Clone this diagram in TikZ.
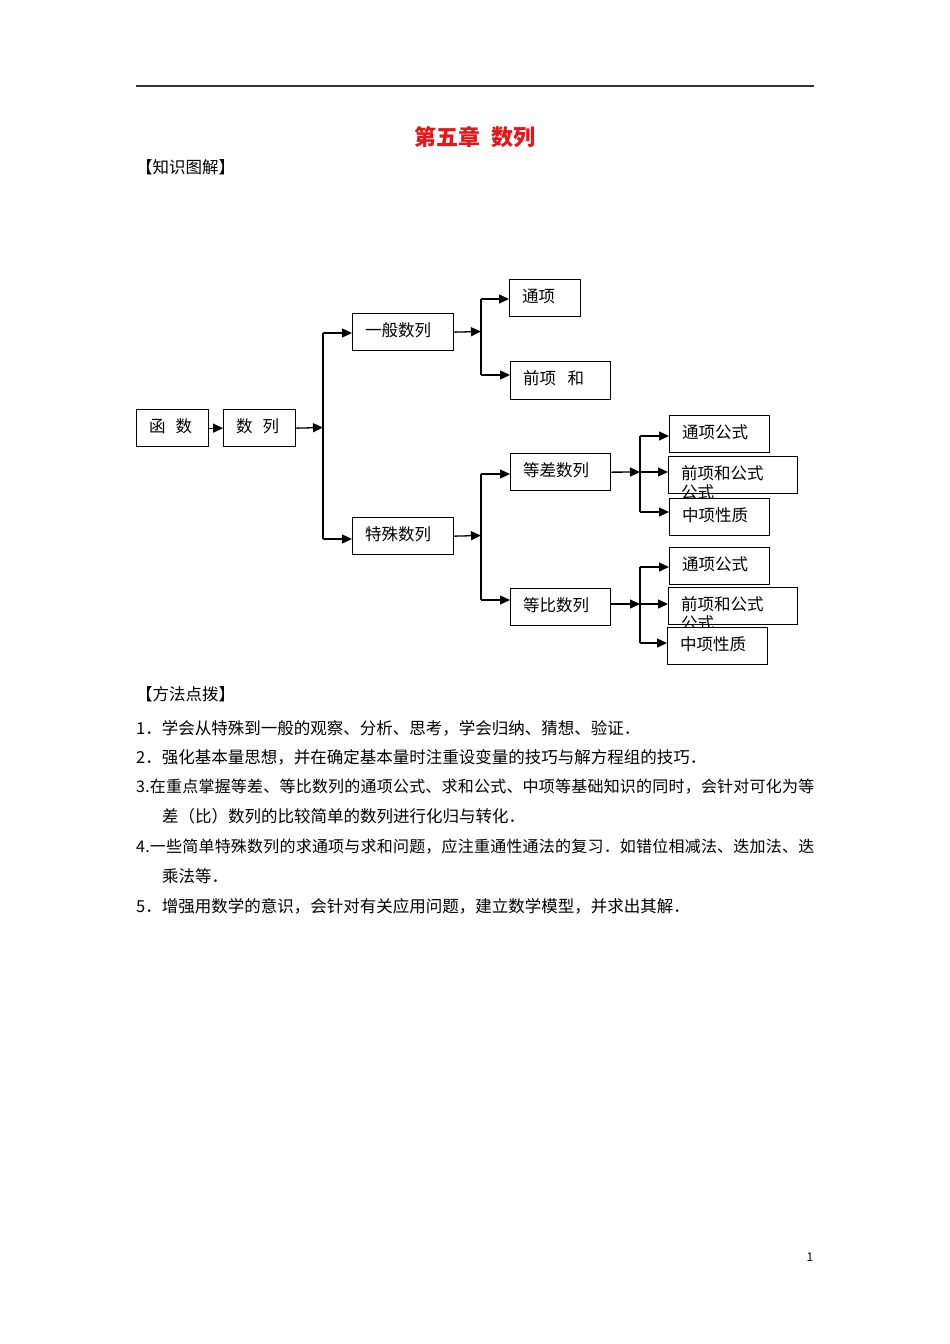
\documentclass[tikz,border=0pt]{standalone}
\usepackage{fontspec}
\setmainfont{Noto Sans CJK SC}
\newfontfamily\spreadfont[LetterSpace=1.3]{Noto Sans CJK SC}
\usetikzlibrary{arrows.meta}
\definecolor{titlered}{RGB}{232,20,24}
\begin{document}
\begin{tikzpicture}[x=1pt,y=-1pt,
  box/.style={draw, line width=1.3pt, fill=white, anchor=north west, minimum height=37pt,
    inner xsep=12.5pt, inner ysep=0pt, text width=#1, align=left,
    text height=11pt, text depth=3pt,
    font=\fontsize{16.5}{19}\selectfont},
  arr/.style={line width=1.3pt, -{Triangle[length=10pt,width=9pt]}},
  ln/.style={line width=1.3pt},
  txt/.style={anchor=base west, inner sep=0pt, font=\fontsize{16.5}{20}\selectfont},
  jtxt/.style={anchor=base west, inner sep=0pt, font=\spreadfont\fontsize{16}{20}\selectfont}]
\useasboundingbox (0,0) rectangle (950,1344);
\fill[white] (0,0) rectangle (950,1344);

% header
\draw[line width=1.4pt, black!80] (136,86) -- (814,86);
\node[anchor=base, inner sep=0pt, text=titlered, font=\fontsize{22}{26}\selectfont\bfseries] (title) at (475,145) {第五章\hspace{0.5em}数列};
\node[txt] (h1) at (136,173) {【知识图解】};

% boxes
\node[box=47pt] (hs) at (136,409) {函\hspace{0.6em}数};
\node[box=47pt] (sl) at (223,409) {数\hspace{0.6em}列};
\node[box=76pt] (yb) at (352,313) {一般数列};
\node[box=76pt] (ts) at (352,517) {特殊数列};
\node[box=46pt] (tx) at (509,279) {通项};
\node[box=75pt, minimum height=38pt] (qh) at (510,361) {前项\hspace{0.7em}和};
\node[box=75pt] (dc) at (510,453) {等差数列};
\node[box=75pt] (db) at (510,588) {等比数列};
\node[box=75pt] (tg1) at (669,415) {通项公式};
\node[box=104pt] (qg1) at (668,456) {\begin{tabular}[t]{@{}l@{}}前项和公式\\公式\end{tabular}};
\node[box=75pt] (zx1) at (669,498) {中项性质};
\node[box=75pt] (tg2) at (669,547) {通项公式};
\node[box=104pt] (qg2) at (668,587) {\begin{tabular}[t]{@{}l@{}}前项和公式\\公式\end{tabular}};
\node[box=75pt] (zx2) at (667,627) {中项性质};

% junction coordinates
\coordinate (ja) at (323,427.5);
\coordinate (ja1) at (323,333);
\coordinate (ja2) at (323,539);
\coordinate (jb) at (481,331.5);
\coordinate (jb1) at (481,299);
\coordinate (jb2) at (481,375);
\coordinate (jc) at (481,535.5);
\coordinate (jc1) at (481,474);
\coordinate (jc2) at (481,600);
\coordinate (jd) at (640,472);
\coordinate (jd1) at (640,436);
\coordinate (jd2) at (640,472);
\coordinate (jd3) at (640,512);
\coordinate (je) at (640,604);
\coordinate (je1) at (640,567);
\coordinate (je2) at (640,604);
\coordinate (je3) at (640,643);

% connectors
\draw[arr] (hs.east) -- (sl.west);
\draw[arr] (sl.east) -- (ja);
\draw[ln] (ja1) -- (ja2);
\draw[arr] (ja1) -- (yb.west |- ja1);
\draw[arr] (ja2) -- (ts.west |- ja2);

\draw[arr] (yb.east) -- (jb);
\draw[ln] (jb1) -- (jb2);
\draw[arr] (jb1) -- (tx.west |- jb1);
\draw[arr] (jb2) -- (qh.west |- jb2);

\draw[arr] (ts.east) -- (jc);
\draw[ln] (jc1) -- (jc2);
\draw[arr] (jc1) -- (dc.west |- jc1);
\draw[arr] (jc2) -- (db.west |- jc2);

\draw[arr] (dc.east) -- (jd);
\draw[ln] (jd1) -- (jd3);
\draw[arr] (jd1) -- (tg1.west |- jd1);
\draw[arr] (jd2) -- (qg1.west |- jd2);
\draw[arr] (jd3) -- (zx1.west |- jd3);

\draw[arr] (db.east |- je) -- (je);
\draw[ln] (je1) -- (je3);
\draw[arr] (je1) -- (tg2.west |- je1);
\draw[arr] (je2) -- (qg2.west |- je2);
\draw[arr] (je3) -- (zx2.west |- je3);

% method section
\node[txt] (h2) at (136,700) {【方法点拨】};
\node[txt] (l1) at (136,734) {1．学会从特殊到一般的观察、分析、思考，学会归纳、猜想、验证．};
\node[txt] (l2) at (136,763) {2．强化基本量思想，并在确定基本量时注重设变量的技巧与解方程组的技巧．};
\node[jtxt] (l3) at (136,792) {3.在重点掌握等差、等比数列的通项公式、求和公式、中项等基础知识的同时，会针对可化为等};
\node[txt] (l3b) at (162,822) {差（比）数列的比较简单的数列进行化归与转化．};
\node[jtxt] (l4) at (136,852) {4.一些简单特殊数列的求通项与求和问题，应注重通性通法的复习．如错位相减法、迭加法、迭};
\node[txt] (l4b) at (162,882) {乘法等．};
\node[txt] (l5) at (136,912) {5．增强用数学的意识，会针对有关应用问题，建立数学模型，并求出其解．};

\node[anchor=base, inner sep=0pt, font=\fontsize{12}{14}\selectfont] (pg) at (810,1261) {1};
\end{tikzpicture}
\end{document}
